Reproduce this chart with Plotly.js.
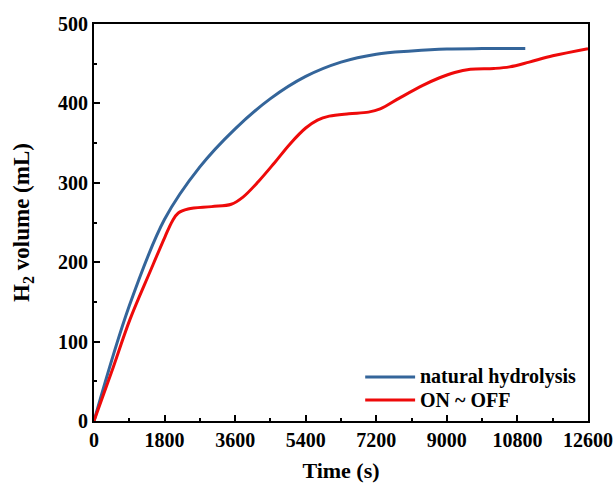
<!DOCTYPE html>
<html>
<head>
<meta charset="utf-8">
<script src="https://cdn.plot.ly/plotly-3.0.1.min.js"></script>
<style>html,body{margin:0;padding:0;background:#fff}#chart{width:614px;height:483px}</style>
</head>
<body>
<div id="chart"></div>
<script>
const seriesNames = ['natural hydrolysis', 'ON ~ OFF'];

const naturalTime = [0, 900, 1800, 2700, 3600, 4500, 5400, 6300, 7200, 8100, 9000, 9900, 11000];
const naturalVolume = [0, 145, 254, 320, 368, 406, 434, 452, 462, 466, 468.5, 469, 469];

const onOffTime = [0, 450, 918, 1429, 1811, 2000, 2150, 2400, 3000, 3500, 3800, 4200, 4600, 5000, 5400, 5700, 6000, 6500, 7000, 7300, 7800, 8400, 8800, 9200, 9600, 10200, 10600, 11100, 11700, 12600];
const onOffVolume = [0, 62, 128, 188, 232, 252, 262, 267, 270, 273, 282, 302, 325, 349, 369, 379, 384, 387, 389, 393, 407, 423, 432, 439, 443, 444, 446, 452, 460, 469];

const xTicks = [0, 1800, 3600, 5400, 7200, 9000, 10800, 12600];
const yTicks = [0, 100, 200, 300, 400, 500];

const fontFam = '"Liberation Serif", "Times New Roman", serif';
const colors = ['#34659a', '#ee0a0a'];

const traces = [
  {x: naturalTime, y: naturalVolume, type: 'scatter', mode: 'lines', name: seriesNames[0],
   line: {color: colors[0], width: 3, shape: 'spline', smoothing: 1}},
  {x: onOffTime, y: onOffVolume, type: 'scatter', mode: 'lines', name: seriesNames[1],
   line: {color: colors[1], width: 3, shape: 'spline', smoothing: 1}}
];

// custom legend (longer sample lines, like the reference)
const legendY = [0.111, 0.053];
const shapes = seriesNames.map((n, i) => ({
  type: 'line', xref: 'paper', yref: 'paper', x0: 0.549, x1: 0.650, y0: legendY[i], y1: legendY[i],
  line: {color: colors[i], width: 3}
}));
const annotations = seriesNames.map((n, i) => ({
  xref: 'paper', yref: 'paper', x: 0.655, y: legendY[i], xanchor: 'left', yanchor: 'middle',
  text: '<b>' + n + '</b>', showarrow: false, font: {family: fontFam, size: 20, color: '#000'}
}));

const axisCommon = {
  showgrid: false, zeroline: false, showline: true, linecolor: '#000', linewidth: 2,
  mirror: true, ticks: 'inside', ticklen: 6, tickwidth: 2, tickcolor: '#000',
  tickfont: {family: fontFam, size: 20, color: '#000'}
};

const layout = {
  width: 614, height: 483,
  margin: {l: 94, r: 26, t: 24, b: 62},
  paper_bgcolor: '#fff', plot_bgcolor: '#fff',
  font: {family: fontFam, color: '#000'},
  showlegend: false,
  shapes: shapes,
  annotations: annotations,
  xaxis: Object.assign({}, axisCommon, {
    range: [0, 12600], tickvals: xTicks, ticktext: xTicks.map(v => '<b>' + v + '</b>'),
    minor: {dtick: 900, ticks: 'inside', ticklen: 3, tickwidth: 2, tickcolor: '#000'},
    title: {text: '<b>Time (s)</b>', font: {family: fontFam, size: 22, color: '#000'}, standoff: 13}
  }),
  yaxis: Object.assign({}, axisCommon, {
    range: [0, 500], tickvals: yTicks, ticktext: yTicks.map(v => '<b>' + v + '</b>'),
    minor: {dtick: 50, ticks: 'inside', ticklen: 3, tickwidth: 2, tickcolor: '#000'},
    title: {text: '<b>H<sub>2</sub> volume (mL)</b>', font: {family: fontFam, size: 23, color: '#000'}, standoff: 22}
  })
};

Plotly.newPlot('chart', traces, layout, {displayModeBar: false, staticPlot: true});
</script>
</body>
</html>
